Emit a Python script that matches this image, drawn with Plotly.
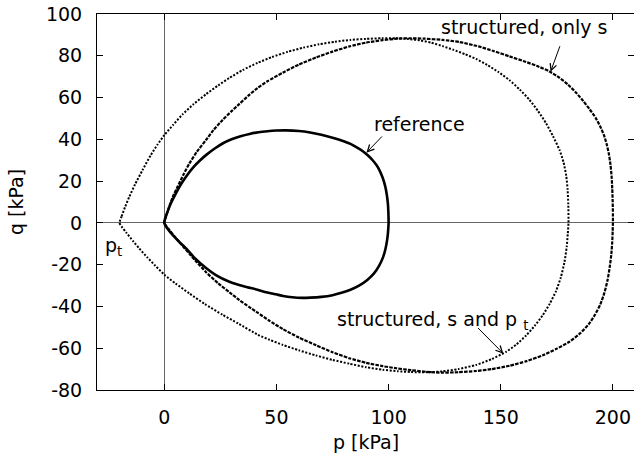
import plotly.graph_objects as go

# Yield surfaces in the p-q plane (p, q in kPa), each listed as a closed loop
ref_p = [0, 0.5, 1.5, 3, 5, 7.5, 10, 13, 16, 19, 22.5, 26, 30, 34, 38, 42, 46, 50, 54.3,
         60, 65, 70, 75, 80, 83, 86, 88.5, 90.7, 92.8, 94.5, 95.9, 97.4, 98.5, 99.2, 99.7,
         99.9, 100, 99.9, 99.7, 99.3, 98.6, 97.5, 95.8, 93.5, 90.5, 87, 83, 79, 75,
         70, 65, 61.7, 57, 53, 49.8, 45.5, 41.6, 37, 33, 29, 23, 18.6, 13.5, 9.7, 6.5, 4,
         2.2, 0.8, 0]
ref_q = [0, 2.5, 5.5, 9.5, 13.8, 18.6, 22.6, 26.7, 30, 32.8, 35.6, 38, 40, 41.5, 42.6,
         43.4, 43.9, 44.2, 44.3, 44, 43.3, 42.2, 40.8, 39.1, 37.8, 36, 34.3, 32.4, 30.1,
         27.8, 25.3, 21.5, 17.5, 13.5, 9, 5, 0, -2, -5, -8.5, -12.5, -16.5, -20.5, -24.2,
         -27.3, -29.9, -32, -33.5, -34.6, -35.4, -35.8, -35.9, -35.6, -35, -34.2,
         -33.2, -32, -30.8, -29.6, -28.2, -25, -21.6, -16.8, -12.2, -8.9, -6.1, -3.9, -1.8,
         0]

s_only_p = [0, 1, 2.5, 4, 5.9, 8.5, 11.2, 14.5, 18.6, 22, 26, 30, 33.5, 37.9, 41.6, 46,
            52.8, 60, 67.7, 75, 82.5, 90, 97.4, 104, 109.3, 116, 124, 131.6, 140, 147,
            153.9, 160, 166, 171.7, 176, 180, 183.6, 186.8, 189.7, 192.3, 194.3, 196,
            197.2, 198.2, 198.9, 199.4, 199.7, 199.9, 200, 200, 199.9, 199.7, 199.3, 198.6,
            197.6, 196.2, 194.4, 192, 189.2, 185.5, 180.6, 175, 168.7, 161.5, 153.9, 146,
            139, 131, 124, 117, 110, 103.5, 97.4, 90, 82.5, 75, 67.7, 60, 52.8, 46.5, 41.6,
            37.9, 33.5, 29, 24, 18.6, 14.5, 11.2, 8, 5, 2.5, 0]
s_only_q = [0, 3.8, 8.8, 13, 17.3, 23, 28.5, 34, 39.7, 44.5, 49.3, 53.5, 57, 61.3, 64.6,
            67.8, 71.9, 75.8, 79.2, 82, 84.5, 86.3, 87.5, 88.2, 88.4, 88.2, 87.6, 86.6,
            84.5, 82.2, 79.7, 77.5, 75.2, 72.5, 69.6, 66.2, 62.3, 58.3, 54.3, 50.3, 46.3,
            42, 37.8, 33, 28, 22.5, 16.5, 10, 4, 0, -4, -9, -15, -21, -27.5, -33.5, -39,
            -44, -48.5, -52.8, -56.9, -60.2, -63.4, -66.2, -68.4, -70, -70.9, -71.5, -71.7,
            -71.3, -70.5, -69.6, -68.6, -67, -64.8, -61.9, -58.6, -54.9, -50.8, -46.6, -43,
            -40.3, -37, -33.2, -28.9, -23.6, -18.8, -14.8, -10.8, -7, -3.7, 0]

s_pt_p = [-20, -19, -17.5, -15.6, -13, -9.7, -6, -3, 0, 4, 8.2, 13, 18.6, 24, 29, 35,
          41.6, 48, 55, 62, 69, 76, 83, 90, 97, 103, 109, 114, 119, 124.1, 129, 134, 139,
          144, 149, 153.9, 158.5, 162.8, 166.6, 170.2, 173.3, 176.2, 178, 179.2, 179.8,
          180.1, 180.2, 179.9, 179.4, 178.4, 176.8, 174.7, 171.9, 168.7, 165.2, 161.3, 157,
          152.4, 146, 139, 131, 124.1, 117, 110, 104, 97.4, 90, 82.5, 75, 67.7, 60, 52.8,
          47, 41.6, 33, 26, 18, 11.2, 5, 0, -4, -7.5, -11.2, -14, -17, -19, -20]
s_pt_q = [0, 3.2, 7.6, 12.5, 18.5, 25.3, 32.5, 37.5, 42, 47, 52, 56.8, 61.6, 65.8, 69.4,
          73.2, 76.6, 79.4, 81.9, 83.9, 85.5, 86.7, 87.6, 88.1, 88.4, 88.4, 88, 87.4, 86.3,
          84.6, 82.8, 80.8, 78.5, 75.6, 72.2, 68.3, 63.8, 58.9, 53.6, 47.7, 41.5, 34.9, 29,
          22.5, 16, 9, 0, -5, -11.5, -18.8, -26, -32.5, -38.6, -44.2, -49.2, -53.9, -58.2,
          -61.7, -65.2, -68, -70, -71.1, -71.5, -71.4, -71, -70.3, -69.1, -67.4, -65.6,
          -63.5, -61, -58.4, -56, -53.5, -48.2, -44, -38.8, -33.8, -29, -24.8, -20.5, -16.6,
          -12.2, -8.6, -4.6, -1.8, 0]

x_ticks = [0, 50, 100, 150, 200]
x_labels = ["0", "50", "100", "150", "200"]
y_ticks = [-80, -60, -40, -20, 0, 20, 40, 60, 80, 100]
y_labels = ["-80", "-60", "-40", "-20", "0", "20", "40", "60", "80", "100"]

FONT = "DejaVu Sans"
FS = 19

fig = go.Figure()
fig.add_trace(go.Scatter(x=s_pt_p, y=s_pt_q, mode="lines",
                         line=dict(color="black", width=2.0, dash="2px,1.6px",
                                   shape="spline", smoothing=0.5)))
fig.add_trace(go.Scatter(x=s_only_p, y=s_only_q, mode="lines",
                         line=dict(color="black", width=2.2, dash="3.5px,1.2px",
                                   shape="spline", smoothing=0.5)))
fig.add_trace(go.Scatter(x=ref_p, y=ref_q, mode="lines",
                         line=dict(color="black", width=2.6,
                                   shape="spline", smoothing=0.5)))

def arrow(head, tail):
    fig.add_annotation(x=head[0], y=head[1], ax=tail[0], ay=tail[1],
                       xref="x", yref="y", axref="x", ayref="y", text="",
                       showarrow=True, arrowhead=5, arrowsize=1.3,
                       arrowwidth=1, arrowcolor="black")

def label(x, y, text, xanchor="center", yanchor="middle"):
    fig.add_annotation(x=x, y=y, xref="x", yref="y", text=text, showarrow=False,
                       xanchor=xanchor, yanchor=yanchor,
                       font=dict(family=FONT, size=FS, color="black"))

label(113.7, 47.4, "reference")
arrow((90.1, 33.6), (97.7, 42.1))
label(160.6, 93.6, "structured, only s")
arrow((172.2, 72.3), (176.6, 85.3))
label(119.5, -46.5, "structured, s and p\u00a0<sub>t</sub>")
arrow((151.2, -62.6), (139.2, -49.6))
label(-22.5, -11.5, "p<sub>t</sub>")

# axis titles
fig.add_annotation(x=0.5, y=0, xref="paper", yref="paper", yshift=-52,
                   text="p [kPa]", showarrow=False, xanchor="center", yanchor="middle",
                   font=dict(family=FONT, size=FS, color="black"))
fig.add_annotation(x=0, y=0.5, xref="paper", yref="paper", xshift=-81,
                   text="q [kPa]", showarrow=False, textangle=-90,
                   xanchor="center", yanchor="middle",
                   font=dict(family=FONT, size=FS, color="black"))

axis_common = dict(showgrid=False, showline=True, linecolor="black", linewidth=1,
                   mirror="ticks", ticks="inside", ticklen=6, tickcolor="black",
                   tickwidth=1, zeroline=True, zerolinecolor="#666666",
                   zerolinewidth=1, tickfont=dict(family=FONT, size=FS, color="black"))

fig.update_xaxes(range=[-30, 209.4], tickvals=x_ticks, ticktext=x_labels,
                 ticklabelstandoff=10, **axis_common)
fig.update_yaxes(range=[-80, 100], tickvals=y_ticks, ticktext=y_labels,
                 ticklabelstandoff=10, **axis_common)

fig.update_layout(width=634, height=456, showlegend=False,
                  margin=dict(l=97, r=0, t=14, b=66),
                  plot_bgcolor="white", paper_bgcolor="white")

fig.write_html("out.html")
